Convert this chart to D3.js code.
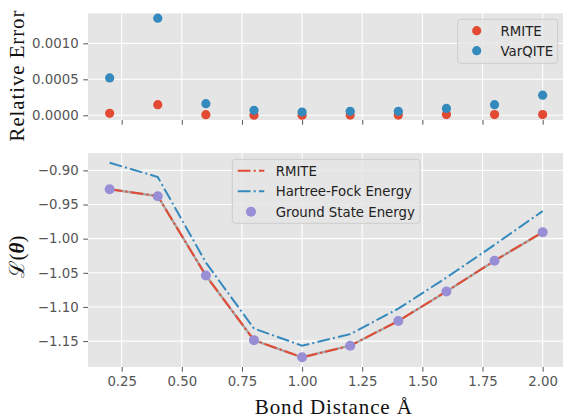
<!DOCTYPE html>
<html><head><meta charset="utf-8">
<script src="https://cdn.jsdelivr.net/npm/d3@7"></script>
<style>
html,body{margin:0;padding:0;background:#fff;}
svg{display:block;}
</style></head>
<body>
<svg id="chart" width="563" height="417" font-family="DejaVu Sans"></svg>
<script>
// ---- data ----
const bondDistance = [0.2, 0.4, 0.6, 0.8, 1.0, 1.2, 1.4, 1.6, 1.8, 2.0];
const rmiteRelErr = [0.000028, 0.000147, 0.000009, 0.000002, 0.000002, 0.000003, 0.000003, 0.00001, 0.00001, 0.00001];
const varqiteRelErr = [0.000519, 0.00135, 0.000161, 0.000069, 0.000046, 0.000055, 0.000055, 0.000096, 0.000147, 0.00028];
const groundEnergy = [-0.9276, -0.9378, -1.054, -1.1486, -1.1737, -1.1568, -1.1205, -1.0773, -1.0323, -0.9906];
const rmiteEnergy = [-0.9276, -0.9378, -1.054, -1.1486, -1.1737, -1.1568, -1.1205, -1.0773, -1.0323, -0.9906];
const hartreeFock = [-0.8888, -0.9097, -1.035, -1.1316, -1.1568, -1.1398, -1.1025, -1.057, -1.009, -0.9596];
const xTicks = [0.25, 0.5, 0.75, 1.0, 1.25, 1.5, 1.75, 2.0];
const topYTicks = [0, 0.0005, 0.001];
const botYTicks = [-0.90, -0.95, -1.00, -1.05, -1.10, -1.15];

const C = {red:"#E24A33", blue:"#348ABD", purple:"#988ED5", gray:"#999999", bg:"#E5E5E5", tick:"#555555"};
const svg = d3.select("#chart");

const L = 88, R = 564.3;
const topP = {t:13.3, b:120};
const botP = {t:153, b:367};

function padDomain(vals){
  const [a,b] = d3.extent(vals); const m=(b-a)*0.05; return [a-m, b+m];
}
const x = d3.scaleLinear().domain(padDomain(bondDistance)).range([L, R]);
const yTop = d3.scaleLinear().domain(padDomain(rmiteRelErr.concat(varqiteRelErr))).range([topP.b, topP.t]);
const yBot = d3.scaleLinear().domain(padDomain(groundEnergy.concat(hartreeFock, rmiteEnergy))).range([botP.b, botP.t]);

const minus = s => s.replace("-", "\u2212");

function panel(p, y, yt, fmt, showXLabels){
  const g = svg.append("g");
  g.append("rect").attr("x", L).attr("y", p.t).attr("width", R-L).attr("height", p.b-p.t).attr("fill", C.bg);
  g.selectAll(".gx").data(xTicks).join("line")
    .attr("x1", d=>x(d)).attr("x2", d=>x(d)).attr("y1", p.t).attr("y2", p.b)
    .attr("stroke", "#fff").attr("stroke-width", 1.1);
  g.selectAll(".gy").data(yt).join("line")
    .attr("x1", L).attr("x2", R).attr("y1", d=>y(d)).attr("y2", d=>y(d))
    .attr("stroke", "#fff").attr("stroke-width", 1.1);
  const ax = g.append("g").attr("transform", `translate(0,${p.b})`)
    .call(d3.axisBottom(x).tickValues(xTicks).tickSizeOuter(0).tickSize(4.7).tickPadding(4.7)
      .tickFormat(showXLabels ? d3.format(".2f") : ""));
  const ay = g.append("g").attr("transform", `translate(${L},0)`)
    .call(d3.axisLeft(y).tickValues(yt).tickSizeOuter(0).tickSize(4.7).tickPadding(4.7).tickFormat(fmt));
  [ax, ay].forEach(a => {
    a.select(".domain").remove();
    a.selectAll(".tick line").attr("stroke", C.tick).attr("stroke-width", 1);
    a.selectAll(".tick text").attr("fill", C.tick).style("font-size", "13.3px").style("font-family", "DejaVu Sans");
  });
  return g;
}

// ---- top panel ----
const gTop = panel(topP, yTop, topYTicks, d => d3.format(".4f")(d), false);
gTop.selectAll(".r").data(bondDistance).join("circle")
  .attr("cx", d=>x(d)).attr("cy", (d,i)=>yTop(rmiteRelErr[i])).attr("r", 4.6).attr("fill", C.red);
gTop.selectAll(".v").data(bondDistance).join("circle")
  .attr("cx", d=>x(d)).attr("cy", (d,i)=>yTop(varqiteRelErr[i])).attr("r", 4.6).attr("fill", C.blue);

const lt = svg.append("g");
lt.append("rect").attr("x", 457.7).attr("y", 19.3).attr("width", 100).attr("height", 44).attr("rx", 3)
  .attr("fill", C.bg).attr("fill-opacity", 0.8).attr("stroke", "#cccccc").attr("stroke-width", 1);
[["RMITE", C.red], ["VarQITE", C.blue]].forEach((e,i)=>{
  const cy = 30.7 + i*20;
  lt.append("circle").attr("cx", 476.7).attr("cy", cy).attr("r", 4.6).attr("fill", e[1]);
  lt.append("text").attr("x", 500.5).attr("y", cy+4.8).style("font-size", "13.3px").style("font-family", "DejaVu Sans").attr("fill", "#222").text(e[0]);
});

// ---- bottom panel ----
const gBot = panel(botP, yBot, botYTicks, d => minus(d3.format(".2f")(d)), true);
const line = arr => d3.line().x((d,i)=>x(bondDistance[i])).y(d=>yBot(d))(arr);
const dash = "12.8,3.2,2,3.2";
gBot.append("path").attr("d", line(groundEnergy)).attr("fill","none").attr("stroke", C.gray).attr("stroke-width", 2.4).attr("stroke-opacity", 0.8);
gBot.append("path").attr("d", line(rmiteEnergy)).attr("fill","none").attr("stroke", C.red).attr("stroke-width", 2).attr("stroke-dasharray", dash);
gBot.append("path").attr("d", line(hartreeFock)).attr("fill","none").attr("stroke", C.blue).attr("stroke-width", 2).attr("stroke-dasharray", dash);
gBot.selectAll(".gs").data(bondDistance).join("circle")
  .attr("cx", d=>x(d)).attr("cy", (d,i)=>yBot(groundEnergy[i])).attr("r", 5).attr("fill", C.purple);

const lb = svg.append("g");
lb.append("rect").attr("x", 232.3).attr("y", 159.3).attr("width", 187.7).attr("height", 64).attr("rx", 3)
  .attr("fill", C.bg).attr("fill-opacity", 0.8).attr("stroke", "#cccccc").attr("stroke-width", 1);
[["RMITE", C.red, "line"], ["Hartree-Fock Energy", C.blue, "line"], ["Ground State Energy", C.purple, "dot"]].forEach((e,i)=>{
  const cy = 170.7 + i*20.5;
  if (e[2]==="line") {
    lb.append("line").attr("x1", 237.7).attr("x2", 264.3).attr("y1", cy).attr("y2", cy)
      .attr("stroke", e[1]).attr("stroke-width", 2).attr("stroke-dasharray", dash);
  } else {
    lb.append("circle").attr("cx", 251).attr("cy", cy).attr("r", 5).attr("fill", e[1]);
  }
  lb.append("text").attr("x", 275.7).attr("y", cy+4.8).style("font-size", "13.3px").style("font-family", "DejaVu Sans").attr("fill", "#222").text(e[0]);
});

// ---- axis labels ----
const serif = "'Liberation Serif', 'DejaVu Serif', serif";
svg.append("text").attr("transform", "translate(24,76) rotate(-90)").attr("text-anchor", "middle")
  .style("font-family", serif).style("font-size", "21px").attr("fill", "#111")
  .attr("textLength", 131).attr("lengthAdjust", "spacing").text("Relative Error");
const yl = svg.append("text").attr("transform", "translate(24,257) rotate(-90)").attr("text-anchor", "middle")
  .style("font-family", serif).style("font-size", "21px").attr("fill", "#111");
yl.append("tspan").text("\u2112");
yl.append("tspan").text("(");
yl.append("tspan").style("font-weight", "bold").style("font-style", "italic").text("\u03B8");
yl.append("tspan").text(")");
svg.append("text").attr("x", (255+411.7)/2).attr("y", 413.5).attr("text-anchor", "middle")
  .style("font-family", serif).style("font-size", "21px").attr("fill", "#111")
  .attr("textLength", 157).attr("lengthAdjust", "spacing").text("Bond Distance \u00C5");
</script>
</body></html>
